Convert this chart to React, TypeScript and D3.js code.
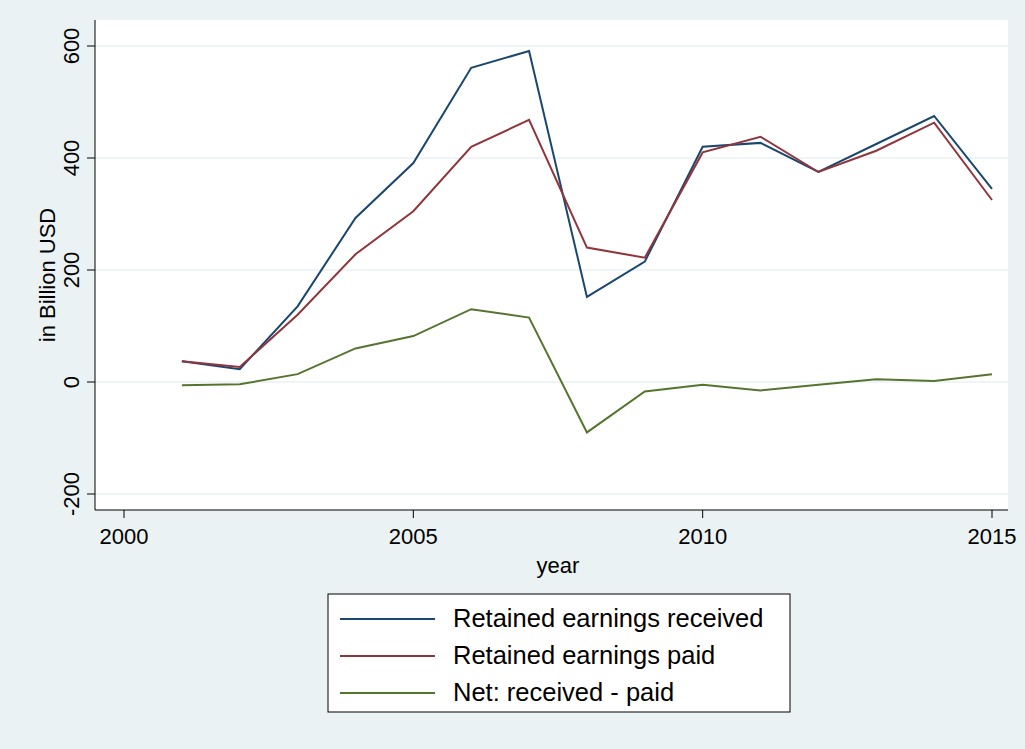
import * as d3 from 'd3';

const years = [2001, 2002, 2003, 2004, 2005, 2006, 2007, 2008, 2009, 2010, 2011, 2012, 2013, 2014, 2015];
const received = [37, 23, 135, 293, 391, 561, 591, 152, 215, 420, 427, 375, 425, 475, 345];
const paid = [37, 27, 120, 228, 305, 420, 468, 240, 222, 410, 438, 375, 413, 463, 325];
const net = [-6, -4, 14, 60, 82, 130, 115, -90, -17, -5, -15, -5, 5, 2, 14];
const yTicks = [-200, 0, 200, 400, 600];
const xTicks = [2000, 2005, 2010, 2015];

const series = [
  { name: 'Retained earnings received', values: received, color: '#1a476f' },
  { name: 'Retained earnings paid', values: paid, color: '#90353b' },
  { name: 'Net: received - paid', values: net, color: '#55752f' },
];

const W = 1025, H = 749;
const L = 95, R = 1008, T = 20, B = 510;

export default function App() {
  const x = d3.scaleLinear().domain([2000, 2015]).range([124, 992]);
  const y = d3.scaleLinear().domain([0, 600]).range([382, 46]);
  const line = d3.line<number>().x((_, i) => x(years[i])).y(d => y(d));
  const font = 'Liberation Sans, Arial, sans-serif';
  return (
    <svg width={W} height={H} style={{ position: 'absolute', left: 0, top: 0 }} fontFamily={font}>
      <rect width={W} height={H} fill="#eaf2f3" />
      <rect x={L} y={T} width={R - L} height={B - T} fill="#fff" />
      {yTicks.map(t => (
        <g key={t}>
          <line x1={L} x2={R} y1={y(t)} y2={y(t)} stroke="#eaf2f3" strokeWidth={1.5} />
          <line x1={L - 8} x2={L} y1={y(t)} y2={y(t)} stroke="#000" />
          <text transform={`translate(${L - 16},${y(t)}) rotate(-90)`} textAnchor="middle" fontSize={22}>{t}</text>
        </g>
      ))}
      {xTicks.map(t => (
        <g key={t}>
          <line x1={x(t)} x2={x(t)} y1={B} y2={B + 8} stroke="#000" />
          <text x={x(t)} y={B + 34} textAnchor="middle" fontSize={22}>{t}</text>
        </g>
      ))}
      <line x1={L} x2={L} y1={T} y2={B} stroke="#000" />
      <line x1={L} x2={R} y1={B} y2={B} stroke="#000" />
      <text transform={`translate(55,275) rotate(-90)`} textAnchor="middle" fontSize={22}>in Billion USD</text>
      <text x={558} y={573} textAnchor="middle" fontSize={22}>year</text>
      {series.map(s => (
        <path key={s.name} d={line(s.values) ?? ''} fill="none" stroke={s.color} strokeWidth={2} />
      ))}
      <rect x={328} y={594} width={462} height={118} fill="#fff" stroke="#000" />
      {series.map((s, i) => (
        <g key={s.name} transform={`translate(0,${619 + i * 37})`}>
          <line x1={340} x2={435} y1={0} y2={0} stroke={s.color} strokeWidth={2} />
          <text x={453} y={8} fontSize={25.5}>{s.name}</text>
        </g>
      ))}
    </svg>
  );
}
